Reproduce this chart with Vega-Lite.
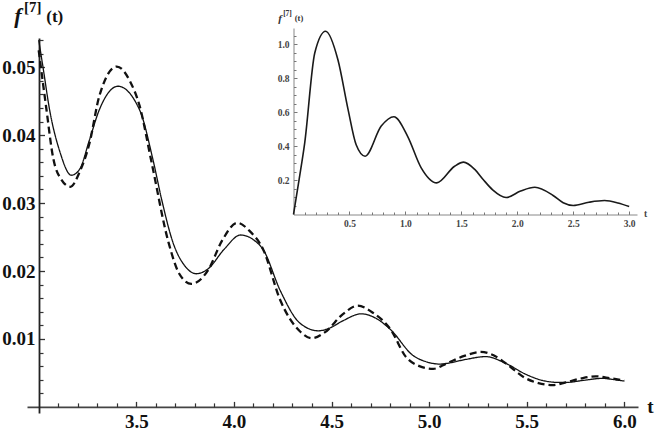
{
  "$schema": "https://vega.github.io/schema/vega-lite/v6.json",
  "autosize": {"type": "none"},
  "width": 611,
  "height": 375,
  "padding": {"left": 27, "top": 38, "right": 20, "bottom": 21},
  "background": "white",
  "config": {"view": {"stroke": null}, "axis": {"labelOverlap": false, "labelFlush": false, "labelBound": false, "grid": false}},
  "datasets": {
    "main": [
      {"t": 3.000, "v": 0.0540, "series": "exact"},
      {"t": 3.022, "v": 0.0500, "series": "exact"},
      {"t": 3.056, "v": 0.0437, "series": "exact"},
      {"t": 3.108, "v": 0.0376, "series": "exact"},
      {"t": 3.167, "v": 0.0341, "series": "exact"},
      {"t": 3.210, "v": 0.0350, "series": "exact"},
      {"t": 3.260, "v": 0.0393, "series": "exact"},
      {"t": 3.310, "v": 0.0437, "series": "exact"},
      {"t": 3.406, "v": 0.0472, "series": "exact"},
      {"t": 3.517, "v": 0.0437, "series": "exact"},
      {"t": 3.586, "v": 0.0363, "series": "exact"},
      {"t": 3.630, "v": 0.0305, "series": "exact"},
      {"t": 3.689, "v": 0.0241, "series": "exact"},
      {"t": 3.750, "v": 0.0207, "series": "exact"},
      {"t": 3.808, "v": 0.0196, "series": "exact"},
      {"t": 3.867, "v": 0.0203, "series": "exact"},
      {"t": 3.950, "v": 0.0232, "series": "exact"},
      {"t": 4.034, "v": 0.0253, "series": "exact"},
      {"t": 4.100, "v": 0.0246, "series": "exact"},
      {"t": 4.151, "v": 0.0231, "series": "exact"},
      {"t": 4.236, "v": 0.0172, "series": "exact"},
      {"t": 4.339, "v": 0.0123, "series": "exact"},
      {"t": 4.433, "v": 0.0112, "series": "exact"},
      {"t": 4.490, "v": 0.0116, "series": "exact"},
      {"t": 4.560, "v": 0.0127, "series": "exact"},
      {"t": 4.652, "v": 0.0137, "series": "exact"},
      {"t": 4.730, "v": 0.0130, "series": "exact"},
      {"t": 4.805, "v": 0.0113, "series": "exact"},
      {"t": 4.916, "v": 0.0076, "series": "exact"},
      {"t": 4.990, "v": 0.0066, "series": "exact"},
      {"t": 5.055, "v": 0.0063, "series": "exact"},
      {"t": 5.090, "v": 0.0064, "series": "exact"},
      {"t": 5.190, "v": 0.0070, "series": "exact"},
      {"t": 5.290, "v": 0.0074, "series": "exact"},
      {"t": 5.393, "v": 0.0064, "series": "exact"},
      {"t": 5.495, "v": 0.0048, "series": "exact"},
      {"t": 5.580, "v": 0.0039, "series": "exact"},
      {"t": 5.667, "v": 0.0036, "series": "exact"},
      {"t": 5.700, "v": 0.0036, "series": "exact"},
      {"t": 5.790, "v": 0.0039, "series": "exact"},
      {"t": 5.888, "v": 0.0042, "series": "exact"},
      {"t": 5.950, "v": 0.0040, "series": "exact"},
      {"t": 6.000, "v": 0.0038, "series": "exact"},
      {"t": 3.000, "v": 0.0525, "series": "approx"},
      {"t": 3.040, "v": 0.0437, "series": "approx"},
      {"t": 3.073, "v": 0.0368, "series": "approx"},
      {"t": 3.115, "v": 0.0335, "series": "approx"},
      {"t": 3.162, "v": 0.0324, "series": "approx"},
      {"t": 3.210, "v": 0.0346, "series": "approx"},
      {"t": 3.260, "v": 0.0388, "series": "approx"},
      {"t": 3.310, "v": 0.0457, "series": "approx"},
      {"t": 3.400, "v": 0.0501, "series": "approx"},
      {"t": 3.470, "v": 0.0478, "series": "approx"},
      {"t": 3.517, "v": 0.0443, "series": "approx"},
      {"t": 3.576, "v": 0.0363, "series": "approx"},
      {"t": 3.666, "v": 0.0241, "series": "approx"},
      {"t": 3.720, "v": 0.0196, "series": "approx"},
      {"t": 3.782, "v": 0.0181, "series": "approx"},
      {"t": 3.867, "v": 0.0201, "series": "approx"},
      {"t": 3.940, "v": 0.0245, "series": "approx"},
      {"t": 4.017, "v": 0.0271, "series": "approx"},
      {"t": 4.080, "v": 0.0259, "series": "approx"},
      {"t": 4.151, "v": 0.0231, "series": "approx"},
      {"t": 4.236, "v": 0.0158, "series": "approx"},
      {"t": 4.339, "v": 0.0111, "series": "approx"},
      {"t": 4.399, "v": 0.0101, "series": "approx"},
      {"t": 4.467, "v": 0.0110, "series": "approx"},
      {"t": 4.560, "v": 0.0137, "series": "approx"},
      {"t": 4.634, "v": 0.0149, "series": "approx"},
      {"t": 4.710, "v": 0.0139, "series": "approx"},
      {"t": 4.805, "v": 0.0113, "series": "approx"},
      {"t": 4.880, "v": 0.0074, "series": "approx"},
      {"t": 4.950, "v": 0.0060, "series": "approx"},
      {"t": 5.021, "v": 0.0056, "series": "approx"},
      {"t": 5.090, "v": 0.0064, "series": "approx"},
      {"t": 5.180, "v": 0.0075, "series": "approx"},
      {"t": 5.265, "v": 0.0081, "series": "approx"},
      {"t": 5.330, "v": 0.0076, "series": "approx"},
      {"t": 5.393, "v": 0.0064, "series": "approx"},
      {"t": 5.495, "v": 0.0042, "series": "approx"},
      {"t": 5.560, "v": 0.0035, "series": "approx"},
      {"t": 5.633, "v": 0.0032, "series": "approx"},
      {"t": 5.700, "v": 0.0036, "series": "approx"},
      {"t": 5.780, "v": 0.0042, "series": "approx"},
      {"t": 5.854, "v": 0.0045, "series": "approx"},
      {"t": 5.930, "v": 0.0042, "series": "approx"},
      {"t": 6.000, "v": 0.0039, "series": "approx"}
    ],
    "inset": [
      {"t": 0.000, "v": 0.000},
      {"t": 0.050, "v": 0.205},
      {"t": 0.100, "v": 0.420},
      {"t": 0.190, "v": 0.950},
      {"t": 0.287, "v": 1.078},
      {"t": 0.397, "v": 0.910},
      {"t": 0.487, "v": 0.620},
      {"t": 0.560, "v": 0.410},
      {"t": 0.640, "v": 0.343},
      {"t": 0.784, "v": 0.520},
      {"t": 0.897, "v": 0.575},
      {"t": 1.020, "v": 0.460},
      {"t": 1.140, "v": 0.276},
      {"t": 1.280, "v": 0.186},
      {"t": 1.440, "v": 0.284},
      {"t": 1.520, "v": 0.308},
      {"t": 1.620, "v": 0.265},
      {"t": 1.695, "v": 0.206},
      {"t": 1.780, "v": 0.145},
      {"t": 1.900, "v": 0.100},
      {"t": 2.030, "v": 0.138},
      {"t": 2.157, "v": 0.160},
      {"t": 2.320, "v": 0.112},
      {"t": 2.410, "v": 0.069},
      {"t": 2.500, "v": 0.053},
      {"t": 2.640, "v": 0.072},
      {"t": 2.780, "v": 0.082},
      {"t": 2.900, "v": 0.068},
      {"t": 3.000, "v": 0.047}
    ]
  },
  "layer": [
    {
      "layer": [
        {
          "data": {"name": "main"},
          "mark": {"type": "line", "interpolate": "monotone", "color": "#111"},
          "encoding": {
            "x": {
              "field": "t", "type": "quantitative",
              "scale": {"domain": [2.94, 6.07], "nice": false, "zero": false},
              "axis": {
                "orient": "bottom", "offset": -6.1,
                "values": [3.5, 4.0, 4.5, 5.0, 5.5, 6.0],
                "format": ".1f",
                "labelFont": "Liberation Serif", "labelFontWeight": "bold", "labelFontSize": 19, "labelColor": "#111",
                "labelPadding": 11.5,
                "tickSize": -5.5, "tickColor": "#333", "tickWidth": 1.3,
                "domainColor": "#444", "domainWidth": 1.6,
                "title": "t", "titleFont": "Liberation Serif", "titleFontWeight": "bold", "titleFontSize": 19, "titleColor": "#111",
                "titleX": 623, "titleY": 6, "titleAlign": "center", "titleBaseline": "alphabetic", "titleAngle": 0
              }
            },
            "y": {
              "field": "v", "type": "quantitative",
              "scale": {"domain": [-0.0009, 0.0543], "nice": false, "zero": false},
              "axis": {
                "orient": "left", "offset": -12,
                "values": [0.01, 0.02, 0.03, 0.04, 0.05],
                "format": ".2f",
                "labelFont": "Liberation Serif", "labelFontWeight": "bold", "labelFontSize": 19, "labelColor": "#111",
                "labelPadding": 9.5,
                "tickSize": -5.5, "tickColor": "#333", "tickWidth": 1.3,
                "domainColor": "#222", "domainWidth": 1.8,
                "title": "f", "titleFont": "Liberation Serif", "titleFontWeight": "bold", "titleFontStyle": "italic", "titleFontSize": 22, "titleColor": "#111",
                "titleX": -21.5, "titleY": -16, "titleAlign": "center", "titleBaseline": "alphabetic", "titleAngle": 0
              }
            },
            "strokeDash": {
              "field": "series", "type": "nominal",
              "scale": {"domain": ["exact", "approx"], "range": [[1, 0], [7, 4]]},
              "legend": null
            },
            "strokeWidth": {
              "field": "series", "type": "nominal",
              "scale": {"domain": ["exact", "approx"], "range": [1.3, 2.3]},
              "legend": null
            }
          }
        },
        {
          "data": {"name": "main"},
          "mark": {"type": "line", "opacity": 0},
          "encoding": {
            "x": {
              "field": "t", "type": "quantitative",
              "scale": {"domain": [2.94, 6.07], "nice": false, "zero": false},
              "axis": {
                "orient": "bottom", "offset": -6.1,
                "values": [3.1,3.2,3.3,3.4,3.6,3.7,3.8,3.9,4.1,4.2,4.3,4.4,4.6,4.7,4.8,4.9,5.1,5.2,5.3,5.4,5.6,5.7,5.8,5.9],
                "labels": false, "domain": false, "title": null,
                "tickSize": -4, "tickColor": "#333", "tickWidth": 1.2
              }
            },
            "y": {
              "field": "v", "type": "quantitative",
              "scale": {"domain": [-0.0009, 0.0543], "nice": false, "zero": false},
              "axis": {
                "orient": "left", "offset": -12,
                "values": [0.002,0.004,0.006,0.008,0.012,0.014,0.016,0.018,0.022,0.024,0.026,0.028,0.032,0.034,0.036,0.038,0.042,0.044,0.046,0.048,0.052,0.054],
                "labels": false, "domain": false, "title": null,
                "tickSize": -4, "tickColor": "#333", "tickWidth": 1.2
              }
            }
          }
        },
        {
          "data": {"values": [{}]},
          "mark": {"type": "text", "text": "[7]", "font": "Liberation Serif", "fontWeight": "bold", "fontSize": 15, "align": "center", "baseline": "alphabetic", "dx": -6, "dy": -26, "color": "#111"},
          "encoding": {
            "x": {"datum": 3, "type": "quantitative", "scale": {"domain": [2.94, 6.07], "nice": false, "zero": false}, "axis": null},
            "y": {"datum": 0.0543, "type": "quantitative", "scale": {"domain": [-0.0009, 0.0543], "nice": false, "zero": false}, "axis": null}
          }
        },
        {
          "data": {"values": [{}]},
          "mark": {"type": "text", "text": "(t)", "font": "Liberation Serif", "fontWeight": "bold", "fontSize": 17, "align": "center", "baseline": "alphabetic", "dx": 16, "dy": -16, "color": "#111"},
          "encoding": {
            "x": {"datum": 3, "type": "quantitative", "scale": {"domain": [2.94, 6.07], "nice": false, "zero": false}, "axis": null},
            "y": {"datum": 0.0543, "type": "quantitative", "scale": {"domain": [-0.0009, 0.0543], "nice": false, "zero": false}, "axis": null}
          }
        }
      ],
      "resolve": {"axis": {"x": "independent", "y": "independent"}}
    },
    {
      "layer": [
        {
          "data": {"name": "inset"},
          "mark": {"type": "line", "interpolate": "monotone", "color": "#1a1a1a", "strokeWidth": 1.6},
          "encoding": {
            "x": {
              "field": "t", "type": "quantitative",
              "scale": {"domain": [0, 3.07], "range": [266.5, 610], "nice": false, "zero": false},
              "axis": {
                "orient": "bottom", "offset": -198.5,
                "values": [0.5, 1.0, 1.5, 2.0, 2.5, 3.0],
                "format": ".1f",
                "labelFont": "Liberation Serif", "labelFontWeight": "bold", "labelFontSize": 9.5, "labelColor": "#444",
                "labelPadding": 7.5,
                "tickSize": -3.5, "tickColor": "#777", "tickWidth": 1,
                "domainColor": "#888", "domainWidth": 1,
                "title": "t", "titleFont": "Liberation Serif", "titleFontWeight": "bold", "titleFontSize": 9.5, "titleColor": "#444",
                "titleX": 618, "titleY": 1.5, "titleAlign": "center", "titleBaseline": "alphabetic", "titleAngle": 0
              }
            },
            "y": {
              "field": "v", "type": "quantitative",
              "scale": {"domain": [0, 1.097], "range": [176.5, -10], "nice": false, "zero": false},
              "axis": {
                "orient": "left", "offset": -266.5,
                "values": [0.2, 0.4, 0.6, 0.8, 1.0],
                "format": ".1f",
                "labelFont": "Liberation Serif", "labelFontWeight": "bold", "labelFontSize": 9.5, "labelColor": "#444",
                "labelPadding": 8,
                "tickSize": -3.5, "tickColor": "#777", "tickWidth": 1,
                "domainColor": "#888", "domainWidth": 1,
                "title": "f", "titleFont": "Liberation Serif", "titleFontWeight": "bold", "titleFontStyle": "italic", "titleFontSize": 11, "titleColor": "#333",
                "titleX": -14, "titleY": -17, "titleAlign": "center", "titleBaseline": "alphabetic", "titleAngle": 0
              }
            }
          }
        },
        {
          "data": {"name": "inset"},
          "mark": {"type": "line", "opacity": 0},
          "encoding": {
            "x": {
              "field": "t", "type": "quantitative",
              "scale": {"domain": [0, 3.07], "range": [266.5, 610], "nice": false, "zero": false},
              "axis": {
                "orient": "bottom", "offset": -198.5,
                "values": [0.1,0.2,0.3,0.4,0.6,0.7,0.8,0.9,1.1,1.2,1.3,1.4,1.6,1.7,1.8,1.9,2.1,2.2,2.3,2.4,2.6,2.7,2.8,2.9],
                "labels": false, "domain": false, "title": null,
                "tickSize": -2.5, "tickColor": "#777", "tickWidth": 1
              }
            },
            "y": {
              "field": "v", "type": "quantitative",
              "scale": {"domain": [0, 1.097], "range": [176.5, -10], "nice": false, "zero": false},
              "axis": {
                "orient": "left", "offset": -266.5,
                "values": [0.05,0.1,0.15,0.25,0.3,0.35,0.45,0.5,0.55,0.65,0.7,0.75,0.85,0.9,0.95,1.05],
                "labels": false, "domain": false, "title": null,
                "tickSize": -2.5, "tickColor": "#777", "tickWidth": 1
              }
            }
          }
        },
        {
          "data": {"values": [{}]},
          "mark": {"type": "text", "text": "[7]", "font": "Liberation Serif", "fontWeight": "bold", "fontSize": 7.5, "align": "center", "baseline": "alphabetic", "dx": -6, "dy": -12, "color": "#333"},
          "encoding": {
            "x": {"datum": 0, "type": "quantitative", "scale": {"domain": [0, 3.07], "range": [266.5, 610], "nice": false, "zero": false}, "axis": null},
            "y": {"datum": 1.097, "type": "quantitative", "scale": {"domain": [0, 1.097], "range": [176.5, -10], "nice": false, "zero": false}, "axis": null}
          }
        },
        {
          "data": {"values": [{}]},
          "mark": {"type": "text", "text": "(t)", "font": "Liberation Serif", "fontWeight": "bold", "fontSize": 8.5, "align": "center", "baseline": "alphabetic", "dx": 5.5, "dy": -7, "color": "#333"},
          "encoding": {
            "x": {"datum": 0, "type": "quantitative", "scale": {"domain": [0, 3.07], "range": [266.5, 610], "nice": false, "zero": false}, "axis": null},
            "y": {"datum": 1.097, "type": "quantitative", "scale": {"domain": [0, 1.097], "range": [176.5, -10], "nice": false, "zero": false}, "axis": null}
          }
        }
      ],
      "resolve": {"axis": {"x": "independent", "y": "independent"}}
    }
  ],
  "resolve": {"scale": {"x": "independent", "y": "independent"}}
}
